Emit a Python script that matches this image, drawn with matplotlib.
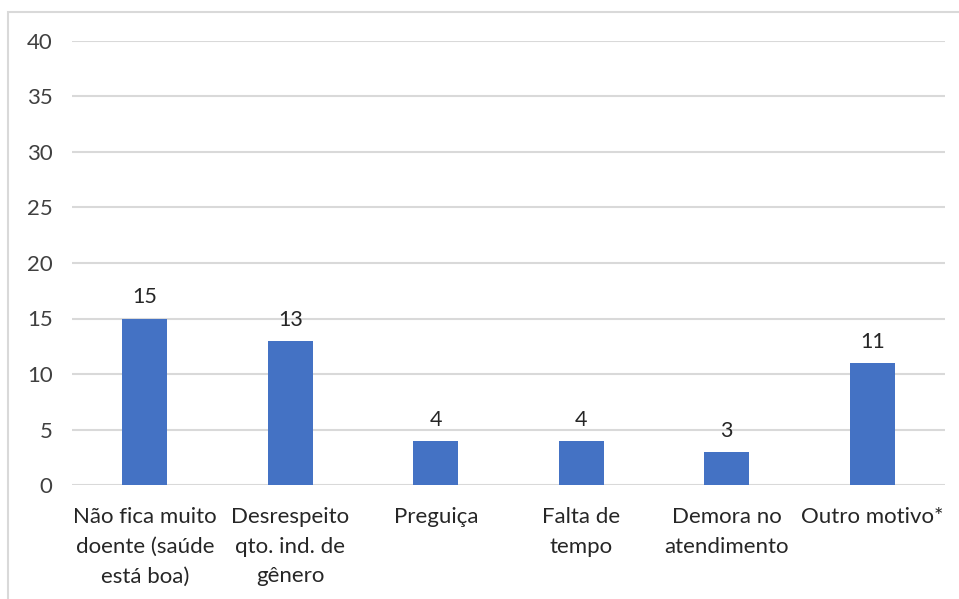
import matplotlib.pyplot as plt
from matplotlib.patches import Rectangle

categorias = ['Não fica muito\ndoente (saúde\nestá boa)', 'Desrespeito\nqto. ind. de\ngênero',
              'Preguiça', 'Falta de\ntempo', 'Demora no\natendimento', 'Outro motivo*']
valores = [15, 13, 4, 4, 3, 11]
y_ticks = [0, 5, 10, 15, 20, 25, 30, 35, 40]

plt.rcParams['font.family'] = ['Lato', 'DejaVu Sans']

W, H = 959, 599
fig = plt.figure(figsize=(W / 100, H / 100), dpi=100)
ax = fig.add_axes([72 / W, 1 - 485 / H, (945 - 72) / W, (485 - 41) / H])

x = range(len(categorias))
bars = ax.bar(x, valores, width=0.31, color='#4472C4', zorder=3)
for b, v in zip(bars, valores):
    ax.text(b.get_x() + b.get_width() / 2, v + 1.0, str(v), ha='center', va='bottom',
            fontsize=15.5, color='#262626')

ax.set_xlim(-0.5, len(categorias) - 0.5)
ax.set_ylim(0, 40)
ax.set_yticks(y_ticks)
ax.set_xticks(list(x))
ax.set_xticklabels(categorias, fontsize=16, color='#262626', linespacing=1.6, va='top')
ax.tick_params(axis='y', labelsize=16, labelcolor='#404040', length=0, pad=14)
ax.tick_params(axis='x', length=0, pad=16)
ax.grid(axis='y', color='#D9D9D9', linewidth=1.5, zorder=0)
for s in ax.spines.values():
    s.set_visible(False)

# moldura do gráfico (só as bordas esquerda e superior aparecem)
fig.patches.append(Rectangle((8 / W, -0.2), 1.2, 1.2 - 12 / H, transform=fig.transFigure,
                             fill=False, edgecolor='#D9D9D9', linewidth=1.5))

fig.savefig('out.png', dpi=100)
